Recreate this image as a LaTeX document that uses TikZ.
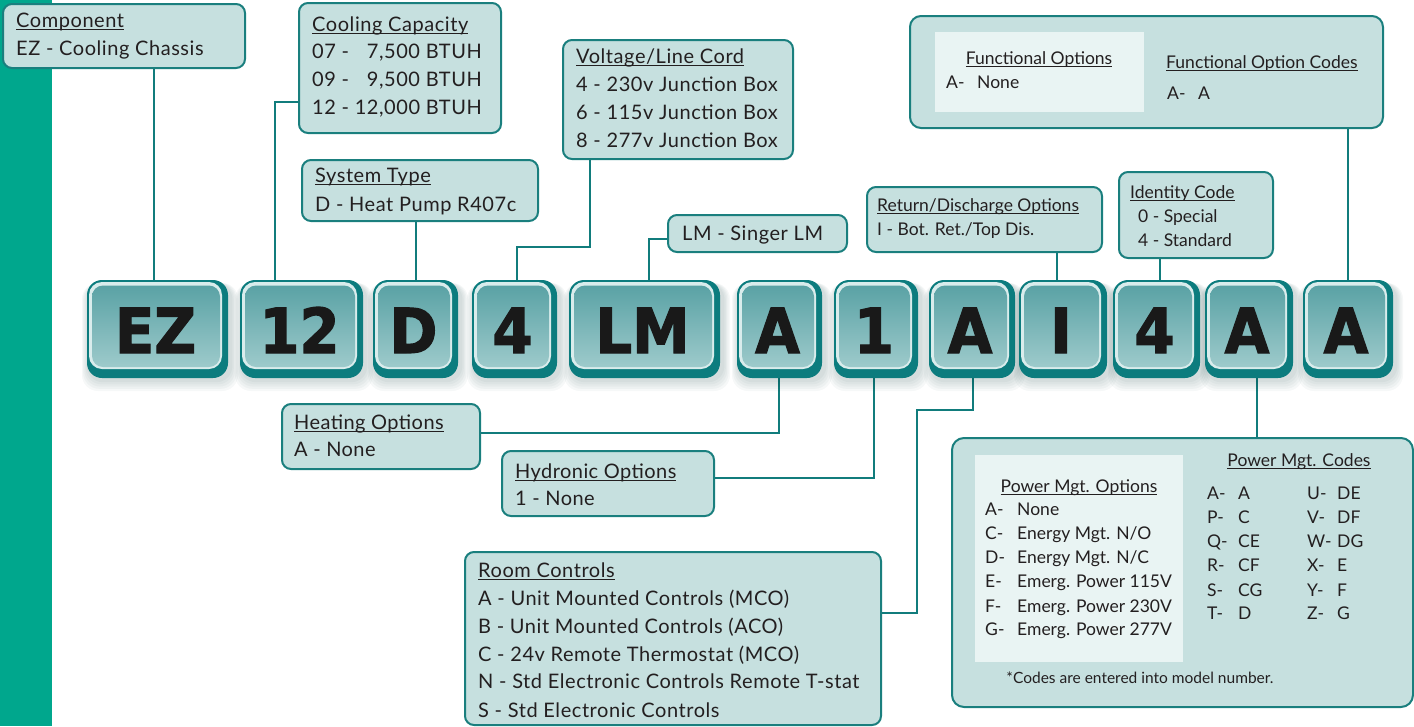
\documentclass[tikz,border=0pt]{standalone}
\usepackage{fontspec}
\setmainfont{Lato}
\newfontfamily\btnfont{DejaVu Sans}[BoldFeatures={FakeBold=2,FakeStretch=0.93}]
\newcommand\uline[1]{\setbox0\hbox{#1}\rlap{\vrule width\wd0 height -1.5pt depth 2.7pt}\box0}
\usetikzlibrary{fit}
\definecolor{stripcol}{HTML}{00A78D}
\definecolor{boxcol}{HTML}{C6E0DF}
\definecolor{bordcol}{HTML}{1A7F7E}
\definecolor{conncol}{HTML}{117C7C}
\definecolor{panelcol}{HTML}{E9F4F3}
\definecolor{txtcol}{HTML}{231F20}
\definecolor{rimcol}{HTML}{0C7C7E}
\definecolor{hilite}{HTML}{D9ECEC}
\definecolor{facetop}{HTML}{5AA2A5}
\definecolor{facebot}{HTML}{9DCACB}
\newcommand\fmain{\fontsize{20}{24}\selectfont\addfontfeatures{LetterSpace=2.8}}
\newcommand\fbig{\fontsize{20}{24}\selectfont\addfontfeatures{LetterSpace=2.2}}
\newcommand\fsmall{\fontsize{17.5}{22}\selectfont}
\newcommand\ffoot{\fontsize{15.5}{18}\selectfont}
\newcounter{tn}
\newcommand\tl[4][]{\stepcounter{tn}\edef\tnn{\arabic{tn}}\node[txt,#1] (t\tnn) at (#2,#3) {#4};}
\newcommand\btn[4]{%
  \foreach \k in {1,...,5} {\fill[black!60!teal, opacity=0.035, rounded corners=16pt] (#2+1-\k*1.2, 283) rectangle (#3+3+\k*1.4, 378+2+\k*2.2);}
  \fill[rimcol, rounded corners=15pt] (#2,280) rectangle (#3,378);
  \fill[hilite, rounded corners=13pt] (#2+2,282) rectangle (#3-6,369);
  \shade[top color=facetop, bottom color=facebot, rounded corners=11pt] (#2+5,285.5) rectangle (#3-8,367);
  \node[btntxt] (#1t) at (#2/2+#3/2-2, 353) {#4};
}
\begin{document}
\begin{tikzpicture}[x=1pt,y=-1pt,
  lbox/.style={draw=bordcol, line width=2pt, fill=boxcol, rounded corners=9pt, inner sep=0pt},
  conn/.style={draw=conncol, line width=2.8pt},
  txt/.style={anchor=base west, inner sep=0pt, font=\fmain, text=txtcol},
  btntxt/.style={anchor=base, inner sep=0pt, font=\btnfont\bfseries\fontsize{62}{62}\selectfont, text=black!90}]
\useasboundingbox (0,0) rectangle (1414,726);
\fill[stripcol] (0,0) rectangle (52,726);

% label boxes
\node[lbox, fit={(3,4) (245,68)}] (comp) {};
\node[lbox, fit={(299,3) (501,133)}] (cool) {};
\node[lbox, fit={(302,160) (538,221)}] (sys) {};
\node[lbox, fit={(563,40) (793,159)}] (volt) {};
\node[lbox, fit={(668,215) (847,252)}] (lm) {};
\node[lbox, fit={(867,187) (1102,252)}] (ret) {};
\node[lbox, fit={(1119,172) (1273,258)}] (ident) {};
\node[lbox, fit={(910,16) (1383,128)}, rounded corners=11pt] (func) {};
\node[lbox, fit={(282,404) (480,469)}] (heat) {};
\node[lbox, fit={(502,451) (714,516)}] (hydro) {};
\node[lbox, fit={(465,552) (881,725)}] (room) {};
\node[lbox, fit={(952,438) (1413,707)}, rounded corners=12pt] (power) {};
\node[fill=panelcol, inner sep=0pt, fit={(935,32) (1144,112)}] (fpanel) {};
\node[fill=panelcol, inner sep=0pt, fit={(975,455) (1183,662)}] (ppanel) {};

% button anchors
\foreach \n/\a/\b in {b1/87/228,b2/240/363,b3/373/458,b4/472/557,b5/569/720,b6/737/822,b7/834/918,b8/929/1015,b9/1019/1107,b10/1113/1200,b11/1205/1293,b12/1303/1393}
  {\node[inner sep=0pt, fit={(\a,280) (\b,378)}] (\n) {};}

% connectors
\draw[conn] (154,0 |- comp.south) -- (154,0 |- b1.north);
\draw[conn] (cool.west |- 0,102) -- (275,102) -- (275,0 |- b2.north);
\draw[conn] (416,0 |- sys.south) -- (416,0 |- b3.north);
\draw[conn] (590,0 |- volt.south) -- (590,247) -- (517,247) -- (517,0 |- b4.north);
\draw[conn] (lm.west |- 0,239) -- (649,239) -- (649,0 |- b5.north);
\draw[conn] (1057,0 |- ret.south) -- (1057,0 |- b9.north);
\draw[conn] (1160,0 |- ident.south) -- (1160,0 |- b10.north);
\draw[conn] (1348,0 |- func.south) -- (1348,0 |- b12.north);
\draw[conn] (heat.east |- 0,433) -- (779,433) -- (779,0 |- b6.south);
\draw[conn] (hydro.east |- 0,478) -- (874,478) -- (874,0 |- b7.south);
\draw[conn] (room.east |- 0,613) -- (917,613) -- (917,410) -- (973,410) -- (973,0 |- b8.south);
\draw[conn] (1257,0 |- power.north) -- (1257,0 |- b11.south);

% buttons (drawing)
\btn{B1}{87}{228}{EZ}
\btn{B2}{240}{363}{12}
\btn{B3}{373}{458}{D}
\btn{B4}{472}{557}{4}
\btn{B5}{569}{720}{LM}
\btn{B6}{737}{822}{A}
\btn{B7}{834}{918}{1}
\btn{B8}{929}{1015}{A}
\btn{B9}{1019}{1107}{I}
\btn{B10}{1113}{1200}{4}
\btn{B11}{1205}{1293}{A}
\btn{B12}{1303}{1393}{A}

% texts
\tl{16}{27}{\uline{Component}}
\tl{16}{55}{EZ - Cooling Chassis}

\tl{312}{31}{\uline{Cooling Capacity}}
\node[txt] (c12) at (312,114) {12 - 12,000 BTUH};
\tl{312}{58}{07 -}
\tl{312}{86}{09 -}
\node[txt, anchor=base east] (c07) at (c12.base east |- 0,58) {7,500 BTUH};
\node[txt, anchor=base east] (c09) at (c12.base east |- 0,86) {9,500 BTUH};

\tl{315}{182}{\uline{System Type}}
\tl{315}{211}{D - Heat Pump R407c}

\tl{576}{63}{\uline{Voltage/Line Cord}}
\tl{576}{91}{4 - 230v Junction Box}
\tl{576}{119}{6 - 115v Junction Box}
\tl{576}{147}{8 - 277v Junction Box}

\tl{682}{240}{LM - Singer LM}

\tl[font=\fsmall]{877}{211}{\uline{Return/Discharge Options}}
\tl[font=\fsmall]{877}{235}{I - Bot. Ret./Top Dis.}

\tl[font=\fsmall]{1130}{198}{\uline{Identity Code}}
\tl[font=\fsmall]{1138}{222}{0 - Special}
\tl[font=\fsmall]{1138}{246}{4 - Standard}

\tl[font=\fsmall, anchor=base]{1039}{64}{\uline{Functional Options}}
\tl[font=\fsmall]{946}{88}{A-}
\tl[font=\fsmall]{977}{88}{None}
\tl[font=\fsmall]{1166}{68}{\uline{Functional Option Codes}}
\tl[font=\fsmall]{1167}{99}{A-}
\tl[font=\fsmall]{1198}{99}{A}

\tl[font=\fbig]{294}{429}{\uline{Heating Options}}
\tl[font=\fbig]{294}{456}{A - None}

\tl[font=\fbig]{515}{478}{\uline{Hydronic Options}}
\tl[font=\fbig]{515}{505}{1 - None}

\tl{478}{577}{\uline{Room Controls}}
\tl{478}{605}{A - Unit Mounted Controls (MCO)}
\tl{478}{633}{B - Unit Mounted Controls (ACO)}
\tl{478}{661}{C - 24v Remote Thermostat (MCO)}
\tl{478}{688}{N - Std Electronic Controls Remote T-stat}
\tl{478}{717}{S - Std Electronic Controls}

\tl[font=\fsmall, anchor=base]{1079}{492}{\uline{Power Mgt. Options}}
\tl[font=\fsmall]{985}{515}{A-}\tl[font=\fsmall]{1017}{515}{None}
\tl[font=\fsmall]{985}{539}{C-}\tl[font=\fsmall]{1017}{539}{Energy Mgt. N/O}
\tl[font=\fsmall]{985}{563}{D-}\tl[font=\fsmall]{1017}{563}{Energy Mgt. N/C}
\tl[font=\fsmall]{985}{587}{E-}\tl[font=\fsmall]{1017}{587}{Emerg. Power 115V}
\tl[font=\fsmall]{985}{612}{F-}\tl[font=\fsmall]{1017}{612}{Emerg. Power 230V}
\tl[font=\fsmall]{985}{635}{G-}\tl[font=\fsmall]{1017}{635}{Emerg. Power 277V}

\tl[font=\fsmall, anchor=base]{1299}{466}{\uline{Power Mgt. Codes}}
\tl[font=\fsmall]{1207}{499}{A-}\tl[font=\fsmall]{1238}{499}{A}
\tl[font=\fsmall]{1207}{523}{P-}\tl[font=\fsmall]{1238}{523}{C}
\tl[font=\fsmall]{1207}{547}{Q-}\tl[font=\fsmall]{1238}{547}{CE}
\tl[font=\fsmall]{1207}{571}{R-}\tl[font=\fsmall]{1238}{571}{CF}
\tl[font=\fsmall]{1207}{596}{S-}\tl[font=\fsmall]{1238}{596}{CG}
\tl[font=\fsmall]{1207}{619}{T-}\tl[font=\fsmall]{1238}{619}{D}
\tl[font=\fsmall]{1307}{499}{U-}\tl[font=\fsmall]{1337}{499}{DE}
\tl[font=\fsmall]{1307}{523}{V-}\tl[font=\fsmall]{1337}{523}{DF}
\tl[font=\fsmall]{1307}{547}{W-}\tl[font=\fsmall]{1337}{547}{DG}
\tl[font=\fsmall]{1307}{571}{X-}\tl[font=\fsmall]{1337}{571}{E}
\tl[font=\fsmall]{1307}{596}{Y-}\tl[font=\fsmall]{1337}{596}{F}
\tl[font=\fsmall]{1307}{619}{Z-}\tl[font=\fsmall]{1337}{619}{G}

\tl[font=\ffoot, anchor=base]{1140}{683}{*Codes are entered into model number.}
\end{tikzpicture}
\end{document}
